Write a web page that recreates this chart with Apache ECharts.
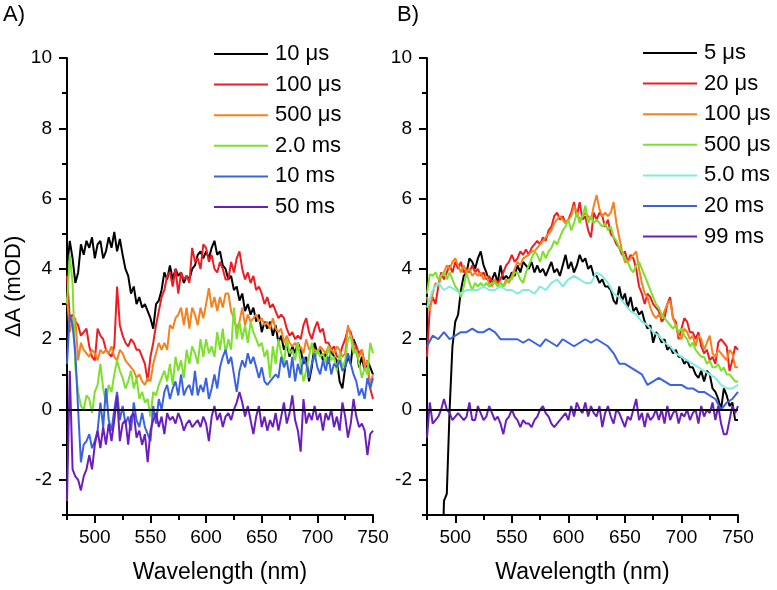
<!DOCTYPE html>
<html>
<head>
<meta charset="utf-8">
<script src="https://cdn.jsdelivr.net/npm/echarts@6/dist/echarts.min.js"></script>
<style>
html,body{margin:0;padding:0;background:#fff;}
#chart{width:777px;height:590px;}
</style>
</head>
<body>
<div id="chart"></div>
<script>
// Wavelength grids (nm)
const wlFine = [
  475, 477.5, 480, 482.5, 485, 487.5, 490, 492.5, 495, 497.5,
  500, 502.5, 505, 507.5, 510, 512.5, 515, 517.5, 520, 522.5,
  525, 527.5, 530, 532.5, 535, 537.5, 540, 542.5, 545, 547.5,
  550, 552.5, 555, 557.5, 560, 562.5, 565, 567.5, 570, 572.5,
  575, 577.5, 580, 582.5, 585, 587.5, 590, 592.5, 595, 597.5,
  600, 602.5, 605, 607.5, 610, 612.5, 615, 617.5, 620, 622.5,
  625, 627.5, 630, 632.5, 635, 637.5, 640, 642.5, 645, 647.5,
  650, 652.5, 655, 657.5, 660, 662.5, 665, 667.5, 670, 672.5,
  675, 677.5, 680, 682.5, 685, 687.5, 690, 692.5, 695, 697.5,
  700, 702.5, 705, 707.5, 710, 712.5, 715, 717.5, 720, 722.5,
  725, 727.5, 730, 732.5, 735, 737.5, 740, 742.5, 745, 747.5,
  750];
const wlCoarse = [475, 480, 485, 490, 495, 500, 505, 510, 515, 520, 525, 530, 535, 540, 545, 550, 555, 560, 565, 570, 575, 580, 585, 590, 595, 600, 605, 610, 615, 620, 625, 630, 635, 640, 645, 650, 655, 660, 665, 670, 675, 680, 685, 690, 695, 700, 705, 710, 715, 720, 725, 730, 735, 740, 745, 750];

// Panel A (values on wlFine)
const namesA = ['10 μs', '100 μs', '500 μs', '2.0 ms', '10 ms', '50 ms'];
const a10us = [
  4.0, 4.8, 4.3, 3.6, 3.9, 4.7, 4.4, 4.8, 4.6, 4.9,
  4.3, 4.7, 4.8, 4.3, 4.5, 4.9, 4.6, 5.05, 4.5, 4.85,
  4.4, 4.0, 3.8, 3.3, 3.5, 3.0, 3.2, 2.9, 3.0, 2.8,
  2.6, 2.3, 3.0, 3.1, 3.4, 3.9, 3.7, 4.1, 3.7, 4.0,
  3.8, 3.9, 3.6, 3.8, 3.7, 4.0, 4.1, 4.4, 4.5, 4.3,
  4.5, 4.3, 4.6, 4.8, 4.4, 4.5, 4.1, 4.0, 3.7, 3.8,
  3.4, 3.5, 3.1, 3.3, 2.8, 3.0, 2.7, 2.9, 2.5, 2.7,
  2.2, 2.5, 2.3, 2.5, 2.1, 2.4, 1.9, 2.1, 1.7, 1.9,
  1.5, 1.8, 1.6, 1.9, 1.7, 1.3, 1.5, 0.8, 1.2, 1.9,
  1.6, 1.7, 1.4, 1.6, 1.3, 1.7, 1.5, 1.4, 0.8, 0.6,
  1.2, 1.5, 1.3, 2.0, 1.8, 1.2, 1.5, 1.1, 1.4, 1.2,
  1.0];
const a100us = [
  3.8, 2.6, 2.7, 2.5, 2.4, 2.1, 2.2, 2.3, 1.8, 1.5,
  1.4, 2.3, 2.1, 2.0, 1.7, 1.6, 1.5, 1.8, 3.5, 2.4,
  2.1, 1.9, 1.8, 2.0, 1.9, 1.7, 1.7, 1.5, 1.3, 0.8,
  1.5, 1.9, 2.4, 2.8, 3.2, 3.4, 3.8, 3.9, 3.5, 4.0,
  3.3, 3.9, 3.7, 3.8, 3.6, 4.6, 4.2, 4.3, 4.0, 4.7,
  4.6, 4.2, 4.4, 4.0, 3.9, 4.2, 4.0, 3.7, 3.7, 4.2,
  3.9, 4.3, 4.5, 4.0, 3.7, 3.9, 3.6, 3.8, 3.4, 3.5,
  3.3, 3.0, 3.2, 2.9, 3.0, 2.8, 2.6, 2.7, 2.6, 2.3,
  2.1, 2.2, 2.0, 2.1, 2.0, 2.4, 2.6, 2.2, 2.0, 2.3,
  2.5, 2.2, 2.3, 1.9, 1.9, 1.7, 1.8, 1.5, 1.5, 1.8,
  2.0, 2.3, 2.2, 1.9, 1.8, 1.6, 1.7, 1.3, 1.3, 0.6,
  0.3];
const a500us = [
  3.2, 2.2, 2.6, 2.6, 1.4, 1.9, 1.7, 1.6, 1.5, 1.7,
  1.6, 1.4, 1.7, 1.6, 1.7, 1.6, 1.8, 1.5, 1.4, 1.7,
  1.6, 1.4, 1.3, 1.2, 1.1, 0.9, 1.0, 0.8, 0.7, 0.9,
  0.8, 1.3, 1.6, 1.9, 1.7, 1.9, 1.7, 2.4, 2.3, 2.6,
  2.7, 2.9, 2.4, 2.9, 2.3, 2.9, 2.7, 2.4, 2.9, 2.6,
  3.0, 3.45, 2.9, 3.2, 2.8, 3.2, 2.9, 3.3, 3.3, 2.8,
  2.6, 2.3, 2.5, 2.9, 2.4, 2.7, 2.5, 2.6, 2.7, 2.5,
  2.6, 2.4, 2.5, 2.3, 2.6, 2.3, 2.2, 2.3, 1.9, 2.1,
  1.9, 1.8, 1.9, 1.7, 1.8, 1.6, 2.0, 1.7, 1.8, 1.7,
  1.6, 1.8, 1.7, 1.6, 1.8, 1.7, 1.6, 1.8, 1.7, 1.5,
  1.6, 2.4, 2.1, 1.8, 1.6, 1.5, 1.7, 1.2, 1.4, 0.7,
  1.0];
const a2ms = [
  3.0, 4.4, 3.6, 1.2, 0.5, 0.1, 0.0, 0.4, 0.3, -0.1,
  0.5, 0.7, 1.3, 0.6, 0.2, 0.7, 0.5, 1.0, 1.4, 1.1,
  0.9, 0.6, 0.8, 1.1, 0.6, 0.9, 0.3, 0.5, 0.2, 0.3,
  -0.2, 0.5, 0.4, 0.7, 0.9, 1.1, 0.8, 1.3, 0.7, 1.5,
  1.1, 1.4, 0.9, 1.7, 1.3, 1.8, 1.6, 1.3, 2.0, 1.5,
  2.0, 1.6, 1.8, 1.5, 2.2, 1.7, 2.3, 1.6, 2.0, 1.7,
  2.9, 2.0, 2.5, 2.0, 2.4, 1.9, 2.5, 2.2, 2.0, 1.8,
  1.9, 1.5, 1.7, 0.9, 1.8, 1.3, 2.0, 1.6, 1.3, 2.0,
  1.6, 1.7, 1.4, 1.9, 1.3, 0.8, 1.1, 1.5, 1.9, 1.4,
  1.7, 1.5, 1.6, 1.3, 1.8, 1.4, 1.5, 1.1, 1.6, 1.2,
  1.4, 2.0, 2.1, 1.6, 1.7, 1.3, 0.9, 1.2, 1.0, 1.9,
  1.6];
const a10ms = [
  1.3, 2.7, 2.4, 1.6, 0.0, -1.5, -1.0, -0.9, -0.7, -1.1,
  -0.9, -0.6, 0.2, -0.5, 0.6, -0.3, -0.6, 0.0, 0.5, -0.3,
  0.1, -0.4, -0.2, -0.6, 0.2, -0.3, -0.5, -0.1, -0.5, -0.7,
  -0.9, 0.1, -0.4, 0.3, 0.0, 0.5, 0.7, 0.3, 0.6, 0.8,
  0.4, 1.0, 0.4, 0.6, 0.7, 0.4, 1.1, 0.4, 0.7, 0.5,
  0.9, 0.3, 0.6, 1.0, 0.6, 1.2, 1.5, 1.7, 1.3, 1.5,
  1.0, 0.5, 1.1, 1.4, 1.2, 1.6, 1.3, 1.5, 1.2, 0.9,
  1.2, 0.8, 0.7, 0.8, 0.9, 1.0, 0.9, 1.5, 1.2, 1.4,
  0.9, 1.5, 0.8, 1.3, 1.0, 1.5, 1.3, 0.9, 1.3, 1.6,
  1.2, 1.0, 1.4, 1.1, 1.5, 1.0, 1.3, 1.2, 1.4, 1.1,
  1.2, 1.6, 1.3, 1.0, 0.8, 0.4, 0.6, 0.3, 0.9, 0.6,
  0.9];
const a50ms = [
  -2.6, 1.1, -1.7, -1.9, -2.0, -2.3, -1.9, -1.7, -1.3, -1.7,
  -1.0, -0.6, -1.1, -0.5, -1.0, -0.4, -0.9, -0.3, 0.4, -0.9,
  -0.4, -0.3, -1.0, -0.2, -0.1, -0.8, -0.6, -1.0, -0.7, -1.5,
  -0.6, -0.3, -0.1, -0.5, -0.2, -0.7, -0.1, -0.3, -0.2, -0.4,
  -0.1, -0.3, -0.6, -0.4, -0.3, -0.5, -0.4, -0.3, -0.5, -0.2,
  -0.4, -0.9, -0.2, 0.1, -0.3, -0.1, -0.5, -0.2, -0.1, -0.3,
  0.0, 0.2, 0.5, 0.2, -0.2, 0.1, -0.3, -0.7, -0.2, 0.1,
  -0.5, -0.2, -0.6, -0.3, -0.5, -0.1, -0.6, -0.2, 0.2, -0.4,
  -0.1, 0.4, -0.3, -0.6, -1.2, 0.3, -0.4, -0.1, -0.3, 0.1,
  -0.3, -0.1, -0.6, -0.1, -0.3, 0.0, -0.5, -0.2, -0.6, 0.2,
  -0.2, -0.8, -0.4, 0.3, -0.2, -0.5, -0.4, -0.6, -1.3, -0.7,
  -0.6];

// Panel B (values on wlFine, except 5.0 ms and 20 ms on wlCoarse)
const namesB = ['5 μs', '20 μs', '100 μs', '500 μs', '5.0 ms', '20 ms', '99 ms'];
const b5us = [
  null, null, null, null, null, -6.0, -2.6, -2.4, 0.0, 1.8,
  2.5, 2.7, 3.4, 3.8, 3.9, 4.3, 4.2, 4.0, 4.3, 4.5,
  4.1, 3.9, 3.6, 3.7, 3.9, 3.6, 4.1, 3.7, 3.8, 3.7,
  3.9, 3.8, 4.1, 3.9, 4.2, 4.1, 4.0, 4.2, 3.9, 4.1,
  3.9, 4.0, 3.8, 4.0, 4.2, 3.9, 4.0, 3.8, 4.1, 4.4,
  4.0, 4.2, 3.9, 4.1, 4.4, 4.2, 4.3, 4.0, 4.1, 3.8,
  3.8, 3.6, 3.7, 3.5, 3.5, 3.4, 3.1, 3.0, 3.5, 3.1,
  3.3, 2.9, 3.2, 2.8, 2.9, 2.7, 2.8, 2.5, 2.3, 2.4,
  1.9, 2.2, 2.1, 1.9, 2.0, 1.7, 1.8, 1.6, 1.7, 1.5,
  1.5, 1.3, 1.4, 1.2, 1.2, 1.0, 0.9, 1.1, 0.8, 1.1,
  1.0, 0.6, 0.5, 0.3, 0.0, 0.6, 0.4, 0.1, 0.2, -0.3,
  -0.3];
const b20us = [
  1.5, 2.9, 3.2, 3.0, 3.5, 3.9, 3.7, 3.9, 4.1, 3.9,
  4.2, 4.0, 4.2, 3.9, 4.0, 3.9, 4.1, 3.9, 4.0, 3.8,
  3.9, 3.7, 3.8, 3.6, 3.7, 3.6, 3.7, 3.9, 4.1, 4.2,
  4.4, 4.2, 4.3, 4.5, 4.4, 4.55, 4.4, 4.6, 4.7, 4.8,
  4.7, 4.9, 4.8, 5.1, 5.2, 5.5, 5.6, 5.4, 5.5, 5.3,
  5.4, 5.6, 5.9, 5.5, 5.9, 5.4, 5.5, 5.1, 4.9, 5.6,
  5.4, 5.6, 5.5, 5.2, 5.4, 5.0, 4.9, 4.7, 4.6, 4.4,
  4.5, 4.2, 4.4, 4.3, 4.0, 3.5, 3.3, 3.0, 3.3, 3.2,
  3.0, 2.9, 2.8, 2.5, 2.6, 3.0, 3.2, 2.6, 2.5, 2.0,
  2.3, 2.6, 2.5, 2.2, 2.2, 2.0, 2.2, 1.8, 1.6, 1.7,
  1.4, 1.5, 1.3, 1.9, 2.0, 1.9, 1.8, 1.1, 1.4, 1.8,
  1.7];
const b100us = [
  3.2, 2.8, 3.3, 3.6, 3.5, 3.8, 3.9, 4.1, 4.0, 4.2,
  4.3, 4.1, 3.9, 4.1, 3.9, 4.0, 3.8, 3.9, 3.8, 3.9,
  3.7, 3.8, 3.6, 3.5, 3.7, 3.5, 3.6, 3.5, 3.7, 3.6,
  3.8, 4.0, 4.2, 4.1, 4.3, 4.35, 4.4, 4.5, 4.5, 4.6,
  4.7, 4.8, 4.9, 5.0, 5.1, 5.3, 5.4, 5.5, 5.4, 5.3,
  5.4, 5.5, 5.8, 5.6, 5.4, 5.5, 5.6, 5.5, 5.4, 5.8,
  6.1, 5.7, 5.5, 5.6, 5.5, 5.6, 5.9, 5.3, 4.9, 4.5,
  4.2, 4.2, 4.3, 4.4, 4.5, 4.0, 3.6, 3.3, 3.2, 2.9,
  2.7, 2.6, 2.7, 2.6, 2.8, 3.0, 3.1, 2.6, 2.4, 2.1,
  2.0, 2.3, 2.2, 2.0, 2.1, 1.8, 2.1, 2.0, 1.7, 1.9,
  2.1, 1.6, 1.5, 1.7, 1.6, 1.5, 1.4, 1.7, 1.6, 1.2,
  1.2];
const b500us = [
  3.3, 3.85, 3.8, 3.9, 3.7, 3.8, 3.9, 3.7, 3.9, 3.7,
  3.5, 3.4, 3.2, 3.5, 3.9, 3.6, 3.4, 3.6, 3.5, 3.6,
  3.5, 3.6, 3.5, 3.6, 3.6, 3.5, 3.6, 3.5, 3.6, 3.7,
  3.7, 3.9, 3.9, 3.7, 3.6, 3.9, 4.1, 4.3, 4.5, 4.4,
  4.2, 4.5, 4.3, 4.5, 4.6, 4.8, 4.7, 4.9, 5.1, 5.2,
  5.4, 5.1, 5.3, 5.6, 5.3, 5.5, 5.8, 5.3, 5.5, 5.3,
  5.4, 5.3, 5.2, 5.3, 5.1, 5.2, 4.9, 4.8, 4.6, 4.5,
  4.3, 4.2, 4.0, 3.9, 4.1, 4.2, 4.0, 3.8, 3.6, 3.4,
  3.2, 3.0, 2.9, 2.7, 2.6, 2.5, 2.4, 2.3, 2.4, 2.2,
  2.3, 2.1, 2.0, 1.8, 1.9, 1.7, 1.6, 1.5, 1.5, 1.3,
  1.4, 1.2, 1.2, 1.3, 1.1, 1.2, 1.0, 1.0, 0.9, 0.8,
  0.8];
const b5ms = [2.9, 3.4, 3.6, 3.4, 3.5, 3.4, 3.3, 3.4, 3.4, 3.4, 3.5, 3.4, 3.4, 3.5, 3.4, 3.4, 3.3, 3.4, 3.4, 3.3, 3.5, 3.4, 3.6, 3.7, 3.5, 3.7, 3.8, 3.7, 3.6, 3.6, 3.9, 3.8, 3.6, 3.3, 3.2, 3.0, 2.8, 2.7, 2.5, 2.4, 2.2, 2.1, 1.9, 1.8, 1.6, 1.5, 1.4, 1.3, 1.2, 1.1, 1.0, 0.9, 0.7, 0.6, 0.6, 0.7];
const b20ms = [1.8, 2.1, 2.0, 2.2, 2.0, 2.1, 2.2, 2.2, 2.3, 2.2, 2.2, 2.3, 2.2, 2.0, 2.0, 2.0, 2.0, 1.9, 2.0, 1.9, 1.8, 2.0, 1.9, 1.8, 2.0, 1.9, 1.8, 1.9, 2.0, 1.9, 2.0, 1.9, 1.8, 1.6, 1.3, 1.3, 1.2, 1.1, 1.0, 0.7, 0.8, 0.9, 0.8, 0.7, 0.7, 0.7, 0.6, 0.6, 0.5, 0.5, 0.4, 0.3, 0.0, 0.2, 0.3, 0.5];
const b99ms = [
  -0.8, 0.2, -0.4, -0.3, -0.2, 0.0, 0.3, 0.0, -0.1, -0.3,
  -0.2, -0.1, -0.2, -0.3, -0.2, 0.2, -0.3, -0.3, 0.1, -0.1,
  -0.3, -0.2, 0.1, -0.1, -0.3, -0.2, -0.4, -0.7, -0.3, -0.2,
  0.0, -0.2, -0.3, -0.5, -0.3, -0.4, -0.4, -0.5, -0.3, -0.2,
  0.0, 0.1, -0.1, -0.2, -0.4, -0.5, -0.4, -0.3, -0.2, -0.1,
  -0.3, 0.1, -0.2, 0.2, 0.0, -0.1, 0.2, -0.2, 0.1, -0.1,
  -0.2, 0.1, -0.5, -0.1, 0.1, -0.2, -0.4, 0.0, -0.1, -0.3,
  -0.5, -0.2, -0.3, 0.0, 0.3, -0.3, -0.1, -0.5, -0.1, -0.3,
  -0.2, 0.0, -0.3, 0.0, -0.4, 0.1, -0.3, -0.1, 0.0, -0.4,
  -0.1, -0.2, 0.0, -0.3, -0.1, 0.0, -0.4, 0.1, -0.2, 0.0,
  -0.1, 0.2, -0.3, 0.1, -0.4, -0.7, -0.7, -0.3, 0.1, -0.1,
  0.1];

// Axis ticks
const xMajor = [500, 550, 600, 650, 700, 750];
const yMajor = [-2, 0, 2, 4, 6, 8, 10];

const colorsA = ['#000000', '#ee1d23', '#f6821f', '#7ee02e', '#3a63e4', '#6a1fbd'];
const colorsB = ['#000000', '#ee1d23', '#f6821f', '#7ee02e', '#80ece0', '#3a63e4', '#6a1fbd'];
const seriesA = [[wlFine, a10us], [wlFine, a100us], [wlFine, a500us], [wlFine, a2ms], [wlFine, a10ms], [wlFine, a50ms]];
const seriesB = [[wlFine, b5us], [wlFine, b20us], [wlFine, b100us], [wlFine, b500us], [wlCoarse, b5ms], [wlCoarse, b20ms], [wlFine, b99ms]];

const FONT = '"Liberation Sans", Arial, sans-serif';
const pts = (w, v) => w.map((x, i) => [x, v[i] === undefined ? null : v[i]]);

function minorX(grid) {
  return {
    type: 'value', gridIndex: grid, position: 'bottom', min: 475, max: 750, interval: 25,
    axisLine: {show: true, onZero: false, lineStyle: {color: '#000', width: 2}},
    axisTick: {show: true, length: 5, lineStyle: {color: '#000', width: 2}},
    axisLabel: {show: false}, splitLine: {show: false}
  };
}
function majorX(grid) {
  return {
    type: 'value', gridIndex: grid, position: 'bottom', min: 475, max: 750,
    axisLine: {show: false, onZero: false},
    axisTick: {show: true, length: 8, customValues: xMajor, lineStyle: {color: '#000', width: 2}},
    axisLabel: {show: true, customValues: xMajor, fontSize: 19, color: '#000', fontFamily: FONT, margin: 13},
    splitLine: {show: false},
    name: 'Wavelength (nm)', nameLocation: 'middle', nameGap: 46,
    nameTextStyle: {fontSize: 23, color: '#000', fontFamily: FONT}
  };
}
function minorY(grid) {
  return {
    type: 'value', gridIndex: grid, position: 'left', min: -3, max: 10, interval: 1,
    axisLine: {show: true, onZero: false, lineStyle: {color: '#000', width: 2}},
    axisTick: {show: true, length: 5, lineStyle: {color: '#000', width: 2}},
    axisLabel: {show: false}, splitLine: {show: false}
  };
}
function majorY(grid, name) {
  const o = {
    type: 'value', gridIndex: grid, position: 'left', min: -3, max: 10,
    axisLine: {show: false, onZero: false},
    axisTick: {show: true, length: 8, customValues: yMajor, lineStyle: {color: '#000', width: 2}},
    axisLabel: {show: true, customValues: yMajor, fontSize: 19, color: '#000', fontFamily: FONT, margin: 15},
    splitLine: {show: false}
  };
  if (name) {
    o.name = name; o.nameLocation = 'middle'; o.nameGap = 42;
    o.nameTextStyle = {fontSize: 22, color: '#000', fontFamily: FONT};
  }
  return o;
}

const zeroLine = {
  silent: true, symbol: ['none', 'none'], label: {show: false},
  lineStyle: {color: '#000', width: 2, type: 'solid'},
  data: [{yAxis: 0}], animation: false
};

const series = [];
seriesA.forEach((s0, i) => {
  const s = {
    name: 'A|' + namesA[i], type: 'line', xAxisIndex: 0, yAxisIndex: 0,
    data: pts(s0[0], s0[1]), symbol: 'none', showSymbol: false,
    lineStyle: {width: 2, color: colorsA[i]}, itemStyle: {color: colorsA[i]}
  };
  if (i === 0) s.markLine = zeroLine;
  series.push(s);
});
seriesB.forEach((s0, i) => {
  const s = {
    name: 'B|' + namesB[i], type: 'line', xAxisIndex: 2, yAxisIndex: 2,
    data: pts(s0[0], s0[1]), symbol: 'none', showSymbol: false, connectNulls: false,
    lineStyle: {width: 2, color: colorsB[i]}, itemStyle: {color: colorsB[i]}
  };
  if (i === 0) s.markLine = zeroLine;
  series.push(s);
});

function legend(names, prefix, left, top) {
  return {
    data: names.map(n => ({name: prefix + n, icon: 'rect'})), formatter: n => n.split('|')[1],
    orient: 'vertical', left: left, top: top, padding: 0,
    itemWidth: 54, itemHeight: 2, itemGap: 8.6, selectedMode: false,
    textStyle: {fontSize: 22, color: '#000', fontFamily: FONT, lineHeight: 22, padding: [0, 0, 0, 2]}
  };
}

const chart = echarts.init(document.getElementById('chart'), null, {renderer: 'canvas'});
chart.setOption({
  animation: false,
  backgroundColor: '#fff',
  grid: [
    {left: 67, top: 58, width: 306, height: 457},
    {left: 427, top: 58, width: 311, height: 457}
  ],
  xAxis: [minorX(0), majorX(0), minorX(1), majorX(1)],
  yAxis: [minorY(0), majorY(0, 'ΔA (mOD)'), minorY(1), majorY(1, null)],
  legend: [legend(namesA, 'A|', 214, 43), legend(namesB, 'B|', 643, 42)],
  graphic: [
    {type: 'text', left: 3, top: 4, style: {text: 'A)', font: '22px ' + FONT, fill: '#000'}},
    {type: 'text', left: 397, top: 4, style: {text: 'B)', font: '22px ' + FONT, fill: '#000'}}
  ],
  series: series
});
</script>
</body>
</html>
